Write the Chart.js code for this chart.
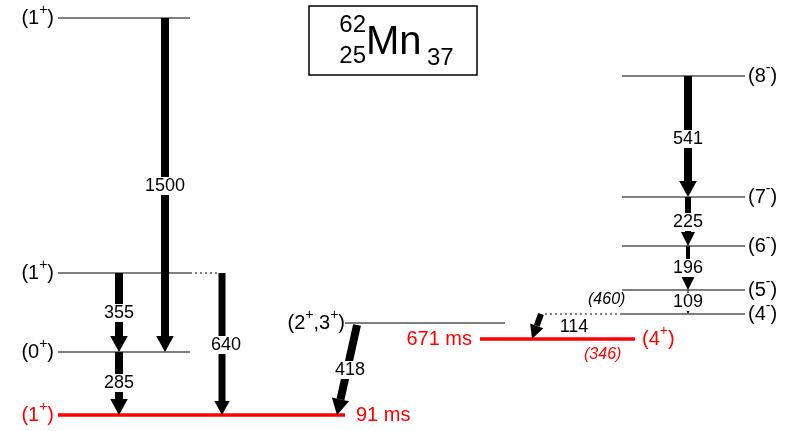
<!DOCTYPE html><html><head><style>html,body{margin:0;background:#fff}#w{width:797px;height:431px}</style>
<script src="https://cdn.jsdelivr.net/npm/chart.js@4"></script></head><body><div id="w"><canvas id="c"></canvas></div>
<script>
const levelX1=[58,58,58,58,345,480,622,622,622,622,622];
const levelX2=[190,190,190,345,505,635,745,745,745,745,745];
const levelY=[18,273,352,415,323,339,314,290,246,197,76];
const levelLabels=["(1","(1","(0","(1","(2","671 ms","(4","(5","(6","(7","(8"];
const levelSup=["+","+","+","+","","","-","-","-","-","-"];
const levelColors=["#000","#000","#000","#f00","#000","#f00","#000","#000","#000","#000","#000"];
const gEnergy=["1500","355","285","640","418","114","541","225","196","109"];
const gX1=[165,119,119,222,357,541,688,688,688,688];
const gY1=[18,273,352,273,325,314,76,197,246,290];
const gX2=[165,119,119,222,337,532,688,688,688,688];
const gY2=[352,352,415,415,415,339,197,246,290,314];
const gW=[8,8,8,7,8,6,8,6,4,1];
const gLabY=[186,313,383,345,370,327,139,222,268,302];

function supText(c,parts,x,y,align){ // parts: [[text,isSup],...]
 const big='20px Liberation Sans, Arial',sm='14px Liberation Sans, Arial';
 let w=0;for(const p of parts){c.font=p[1]?sm:big;w+=c.measureText(p[0]).width;}
 let cx=align=='right'?x-w:x;c.textAlign='left';
 for(const p of parts){c.font=p[1]?sm:big;c.fillText(p[0],cx,p[1]?y-8:y);cx+=c.measureText(p[0]).width;}
}
const draw={id:'d',afterDraw(ch){
 const c=ch.ctx,X=ch.scales.x,Y=ch.scales.y,px=v=>X.getPixelForValue(v),py=v=>Y.getPixelForValue(v);
 c.save();
 for(let i=0;i<gEnergy.length;i++){
  const x1=px(gX1[i]),y1=py(gY1[i]),x2=px(gX2[i]),y2=py(gY2[i]);
  const a=Math.atan2(y2-y1,x2-x1),hl=Math.max(14,gW[i]*2),hw=Math.max(7,gW[i]*1.1);
  const bx=x2-hl*Math.cos(a),by=y2-hl*Math.sin(a);
  c.strokeStyle='#000';c.lineWidth=gW[i];c.beginPath();c.moveTo(x1,y1);c.lineTo(bx,by);c.stroke();
  c.fillStyle='#000';c.beginPath();c.moveTo(x2,y2);
  c.lineTo(bx+hw*Math.sin(a),by-hw*Math.cos(a));c.lineTo(bx-hw*Math.sin(a),by+hw*Math.cos(a));c.fill();
 }
 c.font='18px Liberation Sans, Arial';c.textBaseline='middle';
 for(let i=0;i<gEnergy.length;i++){
  let lx=px(gX1[i]+(gX2[i]-gX1[i])*0.5),ly=py(gLabY[i]);
  if(i==5)lx=px(574); if(i==4)lx=px(350); if(i==3)lx=px(226);
  const w=c.measureText(gEnergy[i]).width;
  c.fillStyle='#fff';c.fillRect(lx-w/2-1,ly-9,w+2,18);
  c.fillStyle='#000';c.textAlign='center';c.fillText(gEnergy[i],lx,ly);
 }
 for(let i=0;i<levelY.length;i++){
  const y=py(levelY[i]);c.fillStyle=levelColors[i];
  if(i<4)supText(c,[[levelLabels[i],0],[levelSup[i],1],[')',0]],px(levelX1[i])-4,y,'right');
  else if(i==4)supText(c,[['(2',0],['+',1],[',3',0],['+',1],[')',0]],px(345),y,'right');
  else if(i==5){c.font='20px Liberation Sans, Arial';c.textAlign='right';c.fillText(levelLabels[i],px(472),y);supText(c,[['(4',0],['+',1],[')',0]],px(642),y,'left');}
  else supText(c,[[levelLabels[i],0],[levelSup[i],1],[')',0]],px(748),y,'left');
 }
 c.fillStyle='#f00';c.textAlign='left';c.font='20px Liberation Sans, Arial';c.fillText('91 ms',px(356),py(415));
 c.font='italic 16px Liberation Sans, Arial';c.fillText('(346)',px(584),py(355));
 c.fillStyle='#000';c.fillText('(460)',px(588),py(300));
 c.setLineDash([2,3]);c.lineWidth=1;c.strokeStyle='#000';
 c.beginPath();c.moveTo(px(190),py(273));c.lineTo(px(218),py(273));c.moveTo(px(545),py(314));c.lineTo(px(622),py(314));c.stroke();c.setLineDash([]);
 c.lineWidth=1.5;c.strokeRect(px(309),py(6),px(477)-px(309),py(75)-py(6));
 c.fillStyle='#000';c.textAlign='right';c.font='24px Liberation Sans, Arial';
 c.fillText('62',px(366),py(25));c.fillText('25',px(366),py(56));
 c.textAlign='left';c.font='40px Liberation Sans, Arial';c.fillText('Mn',px(366),py(43));
 c.font='24px Liberation Sans, Arial';c.fillText('37',px(427),py(58));
 c.restore();
}};
const ds=levelY.map((y,i)=>({data:[{x:levelX1[i],y},{x:levelX2[i],y}],showLine:true,borderColor:levelColors[i],borderWidth:levelColors[i]=='#f00'?3.5:1.2,pointRadius:0}));
new Chart(document.getElementById('c'),{type:'scatter',data:{datasets:ds},plugins:[draw],
 options:{responsive:true,maintainAspectRatio:false,animation:false,layout:{padding:0},
 plugins:{legend:{display:false},tooltip:{enabled:false}},
 scales:{x:{type:'linear',min:0,max:797,display:false},y:{type:'linear',min:0,max:431,reverse:true,display:false}}}});
</script></body></html>
